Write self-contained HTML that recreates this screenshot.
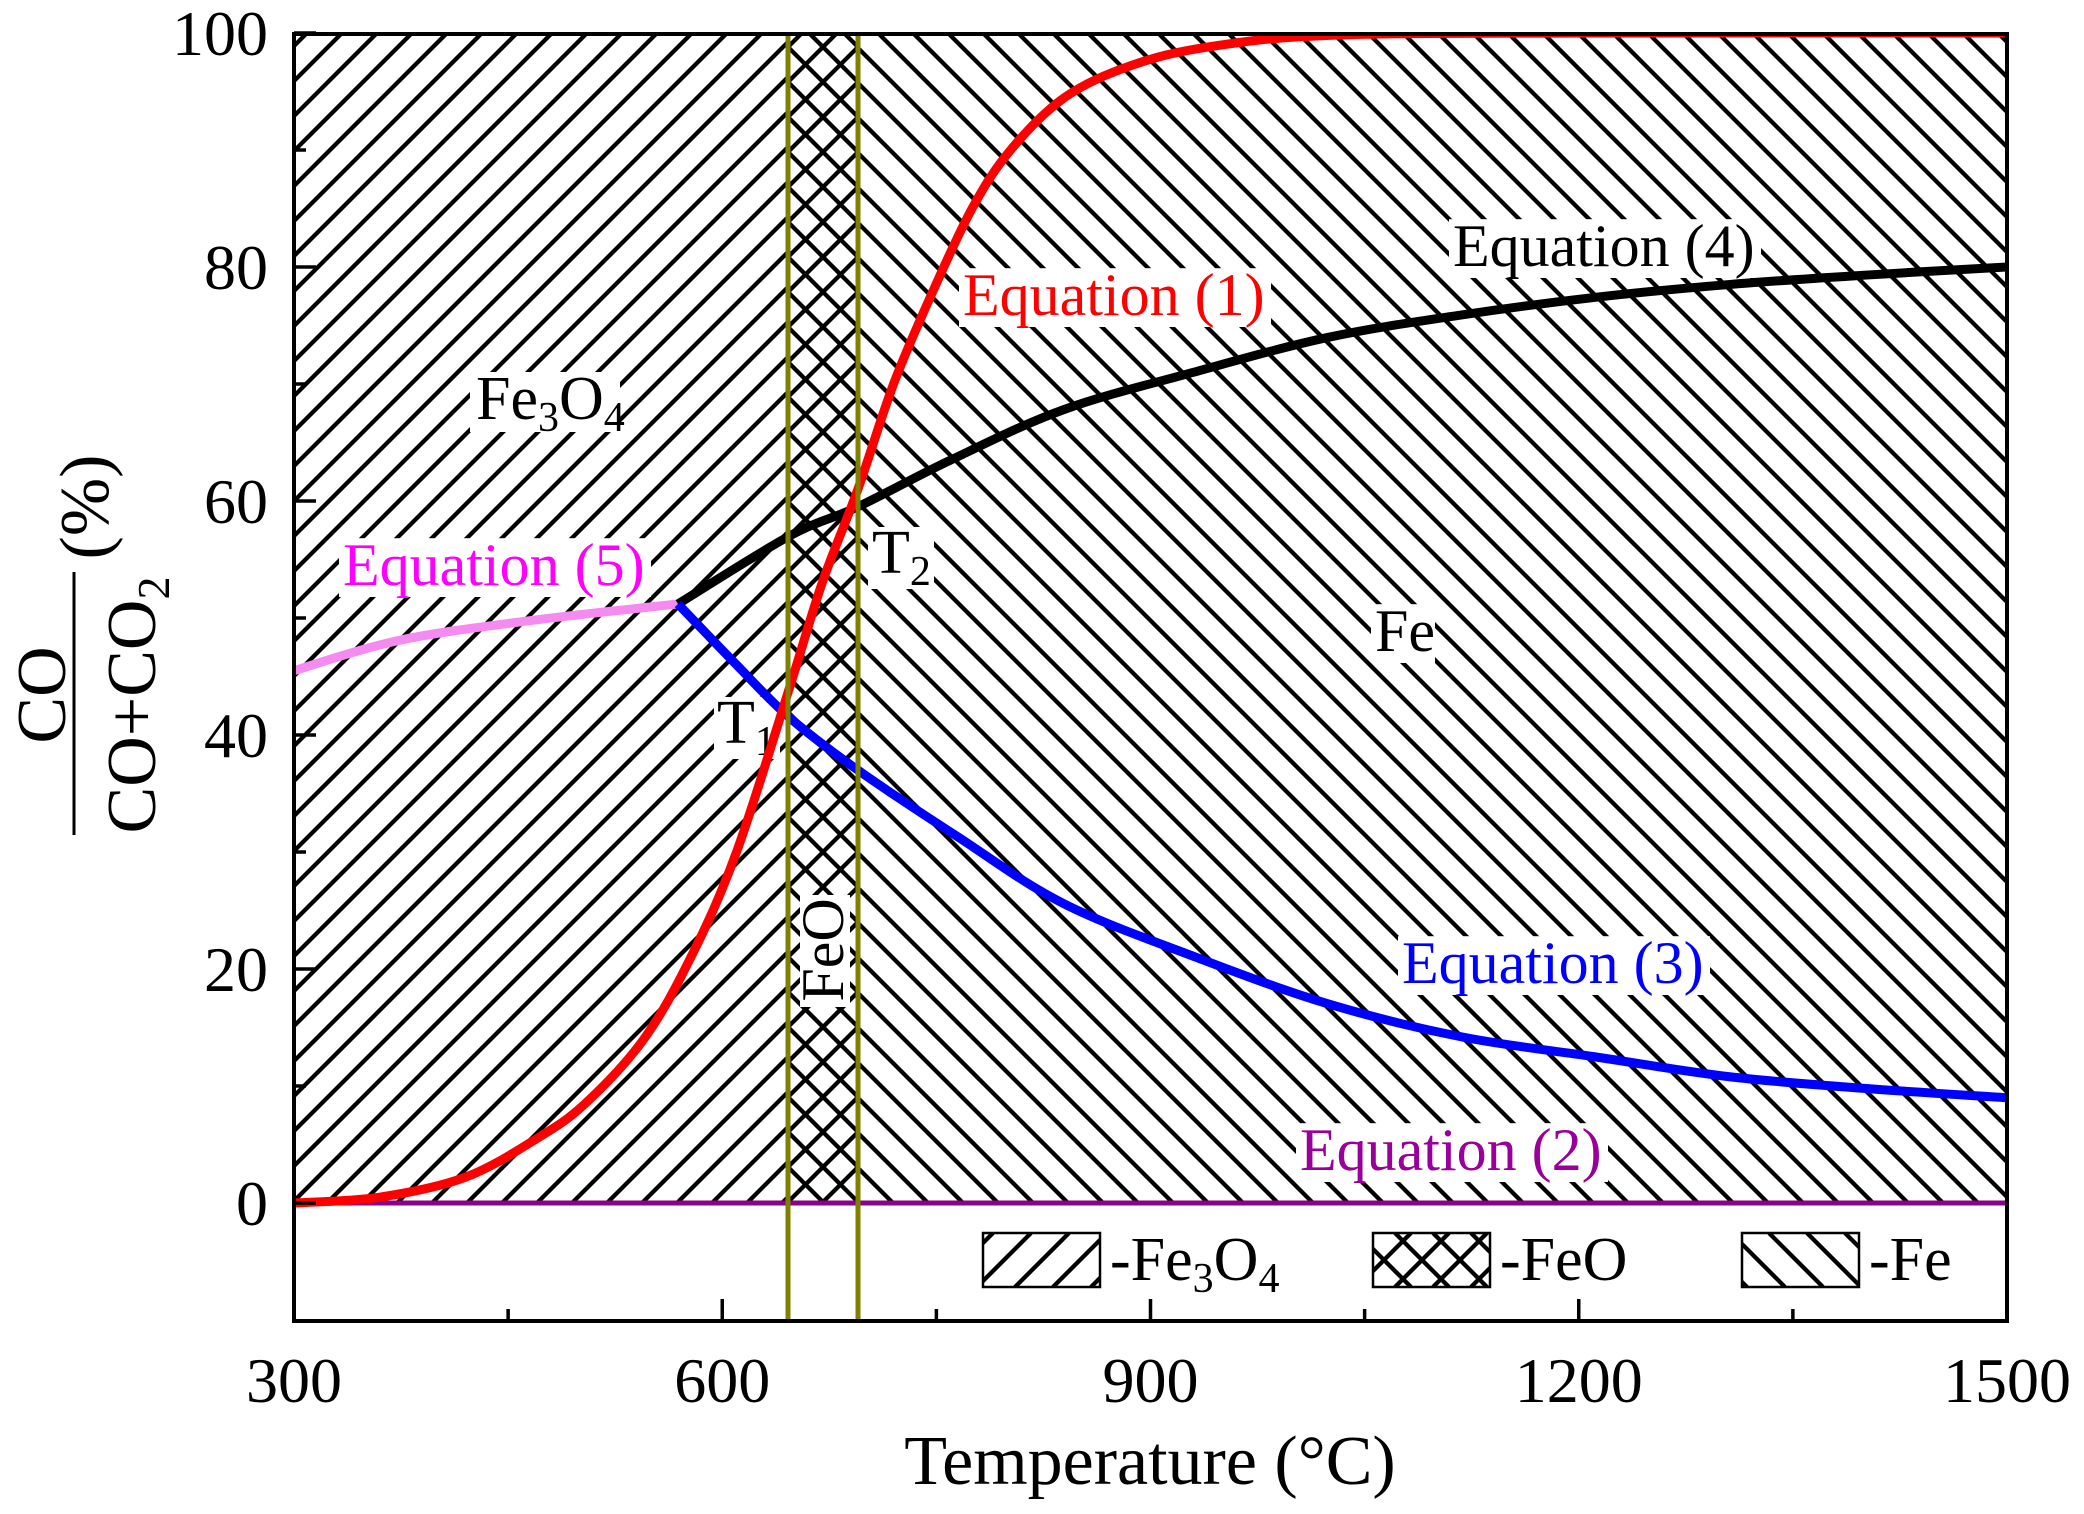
<!DOCTYPE html>
<html><head><meta charset="utf-8"><style>
html,body{margin:0;padding:0;background:#fff}
svg{display:block}
text{font-family:"Liberation Serif",serif}
</style></head><body>
<svg id="s" width="2084" height="1514" viewBox="0 0 2084 1514" xmlns="http://www.w3.org/2000/svg">
<defs>
<clipPath id="c1"><rect x="294" y="34" width="495" height="1169"/></clipPath>
<clipPath id="c2"><rect x="789" y="34" width="69" height="1169"/></clipPath>
<clipPath id="c3"><rect x="858" y="34" width="1149" height="1169"/></clipPath>
<clipPath id="l1"><rect x="983" y="1233" width="117" height="54"/></clipPath>
<clipPath id="l2"><rect x="1373" y="1233" width="117" height="54"/></clipPath>
<clipPath id="l3"><rect x="1742" y="1233" width="117" height="54"/></clipPath>
<clipPath id="pc"><rect x="294" y="33" width="1713" height="1288"/></clipPath>
</defs>
<g id="hatch" stroke="#000" stroke-width="4.3"></g>
<g id="labels"></g>
<g id="curves" clip-path="url(#pc)"></g>
<line x1="788" y1="33" x2="788" y2="1321" stroke="#808000" stroke-width="5"/>
<line x1="858" y1="33" x2="858" y2="1321" stroke="#808000" stroke-width="5"/>
<rect x="294" y="34" width="1713" height="1287" fill="none" stroke="#000" stroke-width="4"/>
<g id="ticks" stroke="#000" stroke-width="3.5"></g>
<g id="tl" font-size="64"></g>
<rect x="983" y="1233" width="117" height="54" fill="none" stroke="#000" stroke-width="2.5"/>
<rect x="1373" y="1233" width="117" height="54" fill="none" stroke="#000" stroke-width="2.5"/>
<rect x="1742" y="1233" width="117" height="54" fill="none" stroke="#000" stroke-width="2.5"/>
<text x="1110" y="1280" font-size="62">-Fe<tspan font-size="42" dy="12">3</tspan><tspan dy="-12">O</tspan><tspan font-size="42" dy="12">4</tspan></text>
<text x="1500" y="1280" font-size="62">-FeO</text>
<text x="1869" y="1280" font-size="62">-Fe</text>
<text x="1150" y="1484" font-size="70" text-anchor="middle">Temperature (°C)</text>
<text transform="translate(65,695) rotate(-90)" font-size="70" text-anchor="middle">CO</text>
<line x1="74" y1="572" x2="74" y2="835" stroke="#000" stroke-width="3"/>
<text transform="translate(155,705) rotate(-90)" font-size="70" text-anchor="middle">CO+CO<tspan font-size="46" dy="14">2</tspan></text>
<text transform="translate(108,507) rotate(-90)" font-size="70" text-anchor="middle">(%)</text>
</svg>
<script>
const X=t=>294+(t-300)*1.4275, Y=v=>1203-v*11.7;
const NS="http://www.w3.org/2000/svg";
function el(p,n,a,txt){const e=document.createElementNS(NS,n);for(const k in a)e.setAttribute(k,a[k]);if(txt!=null)e.textContent=txt;document.getElementById(p).appendChild(e);return e;}
function hatch(clip,x0,y0,x1,y1,dir,step,ph){const g=el("hatch","g",{"clip-path":"url(#"+clip+")"});const H=y1-y0;
for(let c=x0-H-step*2+ph;c<x1+H+step*2;c+=step){
let l=dir>0?{x1:c,y1:y1,x2:c+H,y2:y0}:{x1:c,y1:y0,x2:c+H,y2:y1};
const e=document.createElementNS(NS,"line");for(const k in l)e.setAttribute(k,l[k]);g.appendChild(e);}}
hatch("c1",294,34,789,1203,1,35,12);
hatch("c2",789,34,858,1203,1,35,12);
hatch("c2",789,34,858,1203,-1,35,0);
hatch("c3",858,34,2007,1203,-1,35,0);
hatch("l1",983,1233,1100,1287,1,38,10);
hatch("l2",1373,1233,1490,1287,1,38,0);
hatch("l2",1373,1233,1490,1287,-1,38,0);
hatch("l3",1742,1233,1859,1287,-1,38,5);
function path(pts){const P=pts.map(p=>[X(p[0]),Y(p[1])]);let d="M"+P[0][0]+","+P[0][1];
for(let i=0;i<P.length-1;i++){const p0=P[Math.max(i-1,0)],p1=P[i],p2=P[i+1],p3=P[Math.min(i+2,P.length-1)];
d+=` C${p1[0]+(p2[0]-p0[0])/6},${p1[1]+(p2[1]-p0[1])/6} ${p2[0]-(p3[0]-p1[0])/6},${p2[1]-(p3[1]-p1[1])/6} ${p2[0]},${p2[1]}`;}return d;}
function curve(pts,c,w){el("curves","path",{d:path(pts),fill:"none",stroke:c,"stroke-width":w,"stroke-linejoin":"round"});}
function lab(x,y,s,c,fs,w){el("labels","rect",{x:x-4,y:y-fs*0.78,width:w,height:fs*0.98,fill:"#fff"});el("labels","text",{x:x,y:y,"font-size":fs,fill:c},s);}
curve([[300,0],[1500,0]],"#8b008b",5);
curve([[300,45.5],[374,48.1],[467,49.8],[569,51.2]],"#f58af0",9);
curve([[569,51.2],[647,57],[695,59.5],[760,63.5],[839,67.8],[930,71],[1025,74],[1118,75.9],[1211,77.4],[1305,78.5],[1400,79.3],[1500,80]],"#000",9);
curve([[569,51.2],[610,46],[647,41.5],[695,37],[765,31.3],[839,25.6],[932,21],[1025,17],[1118,14.2],[1211,12.5],[1305,10.8],[1400,9.8],[1500,9]],"#0000ff",9);
curve([[300,0],[360,0.5],[420,2.2],[470,5.5],[504,8.5],[545,14],[578,21],[610,30],[647,44],[670,53],[695,61],[720,70],[746,77.5],[775,85],[802,90],[840,94.5],[886,97.2],[940,98.8],[1025,99.8],[1200,100],[1500,100]],"#ff0000",9);
el("labels","rect",{x:470,y:372,width:150,height:60,fill:"#fff"});
el("labels","text",{x:476,y:419,"font-size":62}).innerHTML='Fe<tspan font-size="42" dy="12">3</tspan><tspan dy="-12">O</tspan><tspan font-size="42" dy="12">4</tspan>';
lab(343,585,"Equation (5)","#ff00ff",60,312);
lab(963,315,"Equation (1)","#ff0000",60,312);
lab(1453,266,"Equation (4)","#000",60,312);
lab(1402,983,"Equation (3)","#0000ff",60,312);
lab(1300,1170,"Equation (2)","#990099",60,312);
lab(1375,651,"Fe","#000",60,64);
el("labels","rect",{x:868,y:527,width:66,height:62,fill:"#fff"});
el("labels","text",{x:872,y:573,"font-size":62}).innerHTML='T<tspan font-size="42" dy="12">2</tspan>';
el("labels","rect",{x:714,y:697,width:66,height:62,fill:"#fff"});
el("labels","text",{x:717,y:743,"font-size":62}).innerHTML='T<tspan font-size="42" dy="12">1</tspan>';
el("labels","rect",{x:800,y:895,width:50,height:112,fill:"#fff"});
el("labels","text",{x:0,y:0,"font-size":60,transform:"translate(843,950) rotate(-90)","text-anchor":"middle"},"FeO");
for(let v=0;v<=100;v+=10){const maj=v%20==0;el("ticks","line",{x1:294,y1:Y(v),x2:294+(maj?22:12),y2:Y(v)});
if(maj)el("tl","text",{x:268,y:Y(v)+22,"text-anchor":"end"},String(v));}
for(let t=300;t<=1500;t+=150){const maj=t%300==0;el("ticks","line",{x1:X(t),y1:1321,x2:X(t),y2:1321-(maj?22:12)});
if(maj)el("tl","text",{x:X(t),y:1402,"text-anchor":"middle"},String(t));}
</script>
</body></html>
